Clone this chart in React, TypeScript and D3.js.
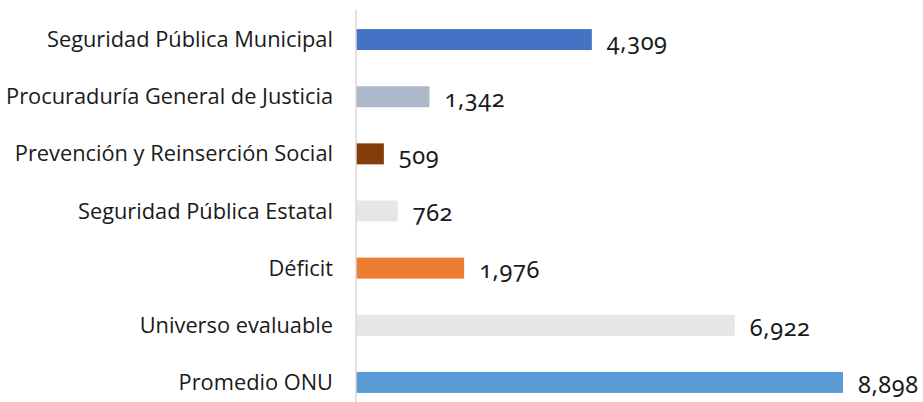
import { useEffect } from 'react';
import * as d3 from 'd3';

const categories = [
  'Seguridad Pública Municipal',
  'Procuraduría General de Justicia',
  'Prevención y Reinserción Social',
  'Seguridad Pública Estatal',
  'Déficit',
  'Universo evaluable',
  'Promedio ONU',
];
const values = [4309, 1342, 509, 762, 1976, 6922, 8898];
const barColors = ['#4472C4', '#ADB9CA', '#843C0C', '#E7E6E6', '#ED7D31', '#E7E6E6', '#5B9BD5'];

const W = 923;
const H = 402;
const AXIS_X = 356;

export default function App() {
  useEffect(() => {
    document.body.style.margin = '0';
  }, []);

  const x = d3.scaleLinear().domain([0, 8898]).range([AXIS_X, 843]);
  const y = d3.scaleBand<string>()
    .domain(categories)
    .range([11, 411])
    .paddingInner(0.633)
    .paddingOuter(0.3165);
  const fmt = d3.format(',');

  return (
    <svg width={W} height={H} style={{ display: 'block', background: '#fff' }}>
      {categories.map((c, i) => {
        const yc = (y(c) ?? 0) + y.bandwidth() / 2;
        return (
          <g key={c}>
            <rect
              x={x(0)}
              y={y(c)}
              width={x(values[i]) - x(0)}
              height={y.bandwidth()}
              fill={barColors[i]}
            />
            <text
              x={AXIS_X - 23}
              y={yc}
              dy="0.35em"
              textAnchor="end"
              fontFamily="'Open Sans', sans-serif"
              fontSize={21.8}
              fill="#1a1a1a"
            >
              {c}
            </text>
            <text
              x={x(values[i]) + 15}
              y={yc + 2}
              dy="0.35em"
              fontFamily="'Noto Sans', sans-serif"
              fontSize={23.5}
              letterSpacing={0.6}
              fill="#1a1a1a"
              style={{ fontVariantNumeric: 'oldstyle-nums' }}
            >
              {fmt(values[i])}
            </text>
          </g>
        );
      })}
      <line x1={AXIS_X} x2={AXIS_X} y1={10} y2={H} stroke="#D9D9D9" strokeWidth={1.5} />
    </svg>
  );
}
